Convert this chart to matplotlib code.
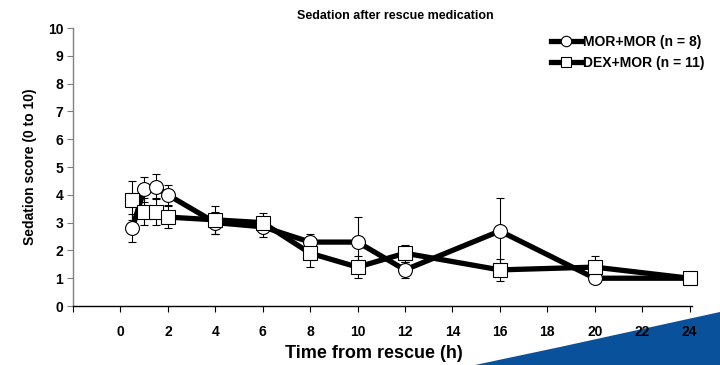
import matplotlib
matplotlib.use("Agg")
import matplotlib.pyplot as plt
from matplotlib.patches import Polygon

plt.rcParams['font.family'] = ['Liberation Sans', 'DejaVu Sans']

time_h = [0.5, 1, 1.5, 2, 4, 6, 8, 10, 12, 16, 20, 24]
mor_mor = [2.8, 4.2, 4.3, 4.0, 3.0, 2.85, 2.3, 2.3, 1.3, 2.7, 1.0, 1.0]
mor_mor_err = [0.5, 0.45, 0.45, 0.35, 0.4, 0.35, 0.3, 0.9, 0.3, 1.2, 0.0, 0.0]
dex_mor = [3.8, 3.4, 3.4, 3.2, 3.1, 3.0, 1.9, 1.4, 1.9, 1.3, 1.4, 1.0]
dex_mor_err = [0.7, 0.5, 0.5, 0.4, 0.5, 0.35, 0.5, 0.4, 0.3, 0.4, 0.4, 0.0]
x_ticks = list(range(-2, 25, 2))
x_ticklabels = [''] + [str(t) for t in range(0, 25, 2)]
y_ticks = list(range(0, 11))

fig = plt.figure(figsize=(7.2, 3.65), dpi=100)

# decorative blue shape bottom right (behind everything)
bg = fig.add_axes([0, 0, 1, 1], zorder=-5)
bg.set_xlim(0, 720)
bg.set_ylim(365, 0)
bg.axis('off')
bg.add_patch(Polygon([[475, 365], [720, 365], [720, 312], [560, 347]],
                     closed=True, facecolor='#0a519c', edgecolor='none'))

ax = fig.add_axes([0.1014, 0.1616, 0.8596, 0.7614], zorder=1)
ax.set_facecolor('none')

ax.errorbar(time_h, mor_mor, yerr=mor_mor_err, fmt='none', ecolor='black',
            elinewidth=0.8, capsize=3, capthick=0.8, zorder=2)
ax.errorbar(time_h, dex_mor, yerr=dex_mor_err, fmt='none', ecolor='black',
            elinewidth=0.8, capsize=3, capthick=0.8, zorder=2)
ax.plot(time_h, mor_mor, color='black', lw=3.8, marker='o', ms=10,
        mfc='white', mec='black', mew=0.8, label='MOR+MOR (n = 8)', zorder=3, clip_on=False)
ax.plot(time_h, dex_mor, color='black', lw=3.8, marker='s', ms=9.5,
        mfc='white', mec='black', mew=0.8, label='DEX+MOR (n = 11)', zorder=4, clip_on=False)

ax.set_xlim(-2, 24.1)
ax.set_ylim(0, 10)
ax.set_xticks(x_ticks)
ax.set_xticklabels(x_ticklabels)
ax.set_yticks(y_ticks)
for lab in ax.get_xticklabels() + ax.get_yticklabels():
    lab.set_fontweight('bold')
    lab.set_fontsize(10)
ax.tick_params(axis='x', direction='out', length=4, width=0.8, color='black', pad=10)
ax.tick_params(axis='y', direction='out', length=4, width=0.8, color='#808080', pad=3)
ax.spines['top'].set_visible(False)
ax.spines['right'].set_visible(False)
ax.spines['left'].set_color('#808080')
ax.spines['left'].set_linewidth(1.0)
ax.spines['bottom'].set_color('black')
ax.spines['bottom'].set_linewidth(1.0)

ax.set_xlabel('Time from rescue (h)', fontsize=13, fontweight='bold')
ax.xaxis.label.set_va('center')
ax.xaxis.set_label_coords((374 - 73) / 619, -(353 - 306) / 278)
ax.set_ylabel('Sedation score (0 to 10)', fontsize=10, fontweight='bold', labelpad=8)
fig.text(395/720, 1 - 16/365, 'Sedation after rescue medication', ha='center', va='center',
         fontsize=9, fontweight='bold')

leg = ax.legend(loc='upper right', bbox_to_anchor=(1.04, 1.02), frameon=False,
                prop={'weight': 'bold', 'size': 10}, handlelength=2.2, handletextpad=0.1,
                labelspacing=0.5, markerscale=0.75)

fig.savefig('out.png', dpi=100)
